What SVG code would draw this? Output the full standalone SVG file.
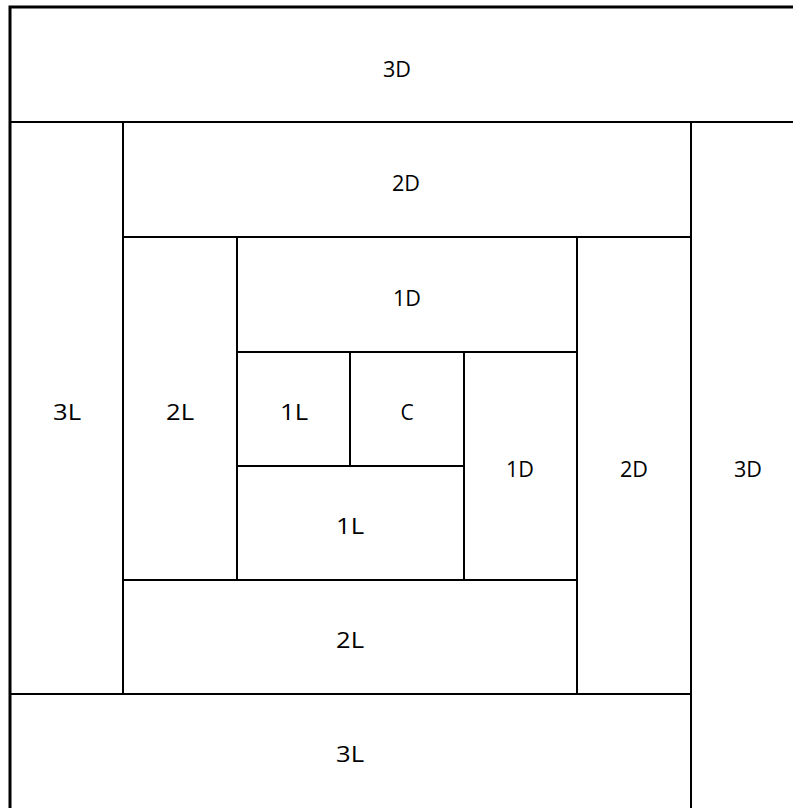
<svg xmlns="http://www.w3.org/2000/svg" width="793" height="808" viewBox="0 0 793 808">
<style>
rect{fill:#fff;stroke:#000;stroke-width:2}
text{font-family:"Open Sans","Liberation Sans",sans-serif;font-size:21px;fill:#000;text-anchor:middle}
.frame{fill:none;stroke:#000;stroke-width:3}
</style>
<rect x="0" y="0" width="793" height="808" style="stroke:none"/>
<g id="top-3D"><rect x="10" y="7" width="800" height="115"/><text x="397" y="77" textLength="28" lengthAdjust="spacingAndGlyphs">3D</text></g>
<g id="left-3L"><rect x="10" y="122" width="113" height="572"/><text x="67" y="420" textLength="28" lengthAdjust="spacingAndGlyphs">3L</text></g>
<g id="top-2D"><rect x="123" y="122" width="568" height="115"/><text x="406" y="191" textLength="28" lengthAdjust="spacingAndGlyphs">2D</text></g>
<g id="right-3D"><rect x="691" y="122" width="120" height="700"/><text x="748" y="477" textLength="28" lengthAdjust="spacingAndGlyphs">3D</text></g>
<g id="right-2D"><rect x="577" y="237" width="114" height="457"/><text x="634" y="477" textLength="28" lengthAdjust="spacingAndGlyphs">2D</text></g>
<g id="left-2L"><rect x="123" y="237" width="114" height="343"/><text x="180" y="420" textLength="28" lengthAdjust="spacingAndGlyphs">2L</text></g>
<g id="top-1D"><rect x="237" y="237" width="340" height="115"/><text x="407" y="306" textLength="28" lengthAdjust="spacingAndGlyphs">1D</text></g>
<g id="left-1L"><rect x="237" y="352" width="113" height="114"/><text x="294" y="420" textLength="28" lengthAdjust="spacingAndGlyphs">1L</text></g>
<g id="center-C"><rect x="350" y="352" width="114" height="114"/><text x="407" y="420">C</text></g>
<g id="right-1D"><rect x="464" y="352" width="113" height="228"/><text x="520" y="477" textLength="28" lengthAdjust="spacingAndGlyphs">1D</text></g>
<g id="bottom-1L"><rect x="237" y="466" width="227" height="114"/><text x="350" y="534" textLength="28" lengthAdjust="spacingAndGlyphs">1L</text></g>
<g id="bottom-2L"><rect x="123" y="580" width="454" height="114"/><text x="350" y="648" textLength="28" lengthAdjust="spacingAndGlyphs">2L</text></g>
<g id="bottom-3L"><rect x="10" y="694" width="681" height="130"/><text x="350" y="762" textLength="28" lengthAdjust="spacingAndGlyphs">3L</text></g>
<path class="frame" d="M10,820 V7 H800"/>
</svg>
